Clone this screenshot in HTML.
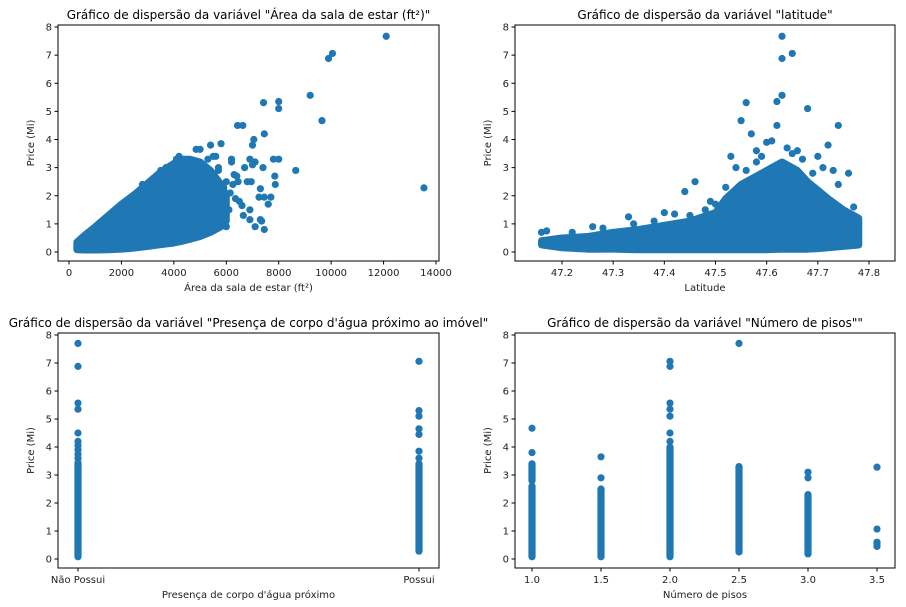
<!DOCTYPE html>
<html><head><meta charset="utf-8"><style>
body{margin:0;background:#fff;}
svg{display:block;font-family:"DejaVu Sans","Liberation Sans",sans-serif;}
</style></head><body>
<svg id="fig" width="906" height="607" viewBox="0 0 906 607" xmlns="http://www.w3.org/2000/svg"></svg>
<script>
// ---------- Data ----------
// Plot 1: living area vs price
const areaCloudX    = [300, 600, 1000, 1500, 2000, 2500, 3000, 3500, 4000, 4300, 4600, 5000, 5400, 5800, 6000];
const areaCloudHigh = [0.35, 0.6, 0.9, 1.3, 1.7, 2.05, 2.45, 2.85, 3.15, 3.3, 3.3, 3.2, 2.9, 2.4, 2.0];
const areaCloudLow  = [0.08, 0.07, 0.07, 0.08, 0.1, 0.14, 0.2, 0.26, 0.32, 0.38, 0.45, 0.55, 0.7, 0.9, 1.1];
const areaOutX = [12100,10050,9900,9200,7420,8000,8000,9650,6430,6630,7450,7050,7000,5800,5400,4850,5000,7400,7800,8000,8650,13540,6200,6200,6700,6900,7100,7000,6400,6300,6800,6950,7850,7870,7300,7250,7450,7700,7600,6900,6600,6650,6900,7300,7350,7100,7450,5800,5600,5500,6000,5700,6250,6450,5900,5200,5300,5600,4200,4500,3700,3900,4700,5100,6150,6350,6500,5900,4100,4300,3300,3500,2600,2800,5500,5700,6100,6000];
const areaOutY = [7.67,7.06,6.88,5.57,5.31,5.35,5.1,4.67,4.5,4.5,4.2,4.0,3.8,3.85,3.8,3.65,3.65,3.0,3.3,3.3,2.9,2.28,3.3,3.2,3.0,3.3,3.2,3.1,2.7,2.75,2.5,2.5,2.7,2.4,2.25,1.95,1.95,1.95,1.7,1.5,1.65,1.3,1.15,1.15,1.1,0.9,0.8,1.2,0.95,0.8,0.9,2.9,2.4,2.5,2.3,2.6,3.3,3.4,3.4,3.1,3.0,2.9,3.1,3.0,2.1,1.9,1.8,1.6,3.3,3.2,2.6,2.9,2.0,2.4,3.4,3.0,1.5,2.5];
// Plot 2: latitude vs price
const latCloudX    = [47.16, 47.2, 47.25, 47.3, 47.35, 47.4, 47.45, 47.5, 47.52, 47.55, 47.58, 47.6, 47.63, 47.66, 47.68, 47.7, 47.72, 47.75, 47.78];
const latCloudHigh = [0.4, 0.5, 0.55, 0.7, 0.8, 0.95, 1.1, 1.4, 1.9, 2.4, 2.7, 2.9, 3.2, 2.9, 2.5, 2.2, 1.9, 1.5, 1.2];
const latCloudLow  = [0.25, 0.15, 0.1, 0.1, 0.08, 0.08, 0.08, 0.08, 0.08, 0.08, 0.08, 0.08, 0.1, 0.1, 0.1, 0.12, 0.15, 0.2, 0.25];
const latOutX = [47.63,47.65,47.63,47.63,47.62,47.56,47.68,47.55,47.74,47.62,47.57,47.61,47.72,47.7,47.44,47.46,47.33,47.16,47.17,47.26,47.4,47.42,47.49,47.58,47.64,47.66,47.71,47.73,47.76,47.59,47.53,47.54,47.6,47.67,47.52,47.56,47.65,47.69,47.74,47.77,47.5,47.45,47.38,47.34,47.28,47.22,47.48,47.58];
const latOutY = [7.67,7.06,6.88,5.57,5.35,5.31,5.1,4.67,4.5,4.5,4.2,3.95,3.8,3.4,2.15,2.5,1.25,0.7,0.75,0.9,1.4,1.35,1.8,3.6,3.7,3.6,3.0,2.9,2.8,3.4,3.4,3.0,3.9,3.3,2.3,2.9,3.5,2.8,2.4,1.6,1.7,1.3,1.1,1.0,0.85,0.7,1.5,3.2];
// Plot 3: waterfront
const waterCats = ["Não Possui", "Possui"];
const waterBandLow  = [0.08, 0.28];
const waterBandHigh = [3.45, 3.4];
const waterOutCat = [0,0,0,0,0,0,0,0,0,0,1,1,1,1,1,1,1];
const waterOutY   = [3.6,3.75,3.9,4.05,4.2,4.5,5.35,5.57,6.88,7.7,3.6,3.85,4.45,4.65,5.1,5.3,7.06];
// Plot 4: floors
const floorTicks = [1.0, 1.5, 2.0, 2.5, 3.0, 3.5];
const floorBandX    = [1.0, 1.0, 1.5, 2.0, 2.5, 3.0];
const floorBandLow  = [0.08, 2.8, 0.08, 0.08, 0.25, 0.18];
const floorBandHigh = [2.6, 3.4, 2.5, 4.0, 3.3, 2.3];
const floorOutX = [1.0,1.0,1.5,1.5,2.0,2.0,2.0,2.0,2.0,2.0,2.0,2.5,3.0,3.0,3.5,3.5,3.5,3.5,3.5];
const floorOutY = [3.8,4.67,2.9,3.65,4.2,4.5,5.1,5.35,5.57,6.88,7.06,7.7,2.9,3.1,0.45,0.55,0.6,1.07,3.28];
const yTicks = [0,1,2,3,4,5,6,7,8];

// ---------- Drawing ----------
const NS = "http://www.w3.org/2000/svg";
const svg = document.getElementById("fig");
const C = "#1f77b4";
function mk(tag, attrs, parent){const e=document.createElementNS(NS,tag);for(const k in attrs)e.setAttribute(k,attrs[k]);(parent||svg).appendChild(e);return e;}
function txt(s, attrs, parent){const e=mk("text",attrs,parent);e.textContent=s;return e;}
function lin(d0,d1,p0,p1){return v=>p0+(v-d0)/(d1-d0)*(p1-p0);}

function panel(name, box, xs, ys, xticks, xlabels, title, xtitle){
  const g = mk("g",{});
  
  
  const t = txt(title,{x:(box.l+box.r)/2,y:box.t-6,"text-anchor":"middle","font-size":"12","fill":"#000"},g);
  
  
  const marks = mk("g",{},g);
  
  
  const fr = mk("rect",{x:box.l,y:box.t,width:box.r-box.l,height:box.b-box.t,fill:"none",stroke:"#000","stroke-width":"1"},g);
  
  
  const ax = mk("g",{},g);
  
  
  yTicks.forEach(v=>{const y=ys(v);mk("line",{x1:box.l-3.5,x2:box.l,y1:y,y2:y,stroke:"#000"},ax);
    txt(String(v),{x:box.l-6,y:y+3.5,"text-anchor":"end","font-size":"10",fill:"#222"},ax);});
  const xa = mk("g",{},g);
  
  
  xticks.forEach((v,i)=>{const x=xs(v);mk("line",{x1:x,x2:x,y1:box.b,y2:box.b+3.5,stroke:"#000"},xa);
    txt(xlabels[i],{x:x,y:box.b+15,"text-anchor":"middle","font-size":"10",fill:"#222"},xa);});
  const xt = txt(xtitle,{x:(box.l+box.r)/2,y:box.b+30,"text-anchor":"middle","font-size":"10",fill:"#222"},g);
  
  
  const cy=(box.t+box.b)/2;
  const yt = txt("Price (Mi)",{x:box.l-24,y:cy,"text-anchor":"middle","font-size":"10",fill:"#222",transform:`rotate(-90 ${box.l-24} ${cy})`},g);
  
  
  return marks;
}
function dot(g,x,y){const c=mk("circle",{cx:x,cy:y,r:3.6,fill:C},g);}
function cloud(g,X,H,L,xs,ys){
  let d="";X.forEach((x,i)=>{d+=(i?"L":"M")+xs(x)+","+ys(H[i]);});
  for(let i=X.length-1;i>=0;i--)d+="L"+xs(X[i])+","+ys(L[i]);
  const p=mk("path",{d:d+"Z",fill:C,stroke:C,"stroke-width":"7","stroke-linejoin":"round"},g);
  
  
}
function band(g,x,y0,y1){const l=mk("line",{x1:x,x2:x,y1:y0,y2:y1,stroke:C,"stroke-width":"7.2","stroke-linecap":"round"},g);
  }

// Panel 1
{const box={l:58,r:439,t:25,b:261};const xs=lin(0,14000,69,436),ys=lin(0,8,252,27);
 const tk=[0,2000,4000,6000,8000,10000,12000,14000];
 const g=panel("area-scatter",box,xs,ys,tk,tk.map(String),'Gráfico de dispersão da variável "Área da sala de estar (ft²)"',"Área da sala de estar (ft²)");
 cloud(g,areaCloudX,areaCloudHigh,areaCloudLow,xs,ys);
 areaOutX.forEach((x,i)=>dot(g,xs(x),ys(areaOutY[i])));}
// Panel 2
{const box={l:515,r:895,t:25,b:261};const xs=lin(47.2,47.8,562,869),ys=lin(0,8,252,27);
 const tk=[47.2,47.3,47.4,47.5,47.6,47.7,47.8];
 const g=panel("latitude-scatter",box,xs,ys,tk,tk.map(v=>v.toFixed(1)),'Gráfico de dispersão da variável "latitude"',"Latitude");
 cloud(g,latCloudX,latCloudHigh,latCloudLow,xs,ys);
 latOutX.forEach((x,i)=>dot(g,xs(x),ys(latOutY[i])));}
// Panel 3
{const box={l:58,r:439,t:333,b:568};const xs=lin(0,1,78,419),ys=lin(0,8,559,335);
 const g=panel("waterfront-scatter",box,xs,ys,[0,1],waterCats,'Gráfico de dispersão da variável "Presença de corpo d\'água próximo ao imóvel"',"Presença de corpo d'água próximo");
 waterCats.forEach((c,i)=>band(g,xs(i),ys(waterBandLow[i]),ys(waterBandHigh[i])));
 waterOutCat.forEach((c,i)=>dot(g,xs(c),ys(waterOutY[i])));}
// Panel 4
{const box={l:515,r:895,t:333,b:568};const xs=lin(1,3.5,532,877),ys=lin(0,8,559,335);
 const g=panel("floors-scatter",box,xs,ys,floorTicks,floorTicks.map(v=>v.toFixed(1)),'Gráfico de dispersão da variável "Número de pisos""',"Número de pisos");
 floorBandX.forEach((x,i)=>band(g,xs(x),ys(floorBandLow[i]),ys(floorBandHigh[i])));
 floorOutX.forEach((x,i)=>dot(g,xs(x),ys(floorOutY[i])));}
</script>
</body></html>
